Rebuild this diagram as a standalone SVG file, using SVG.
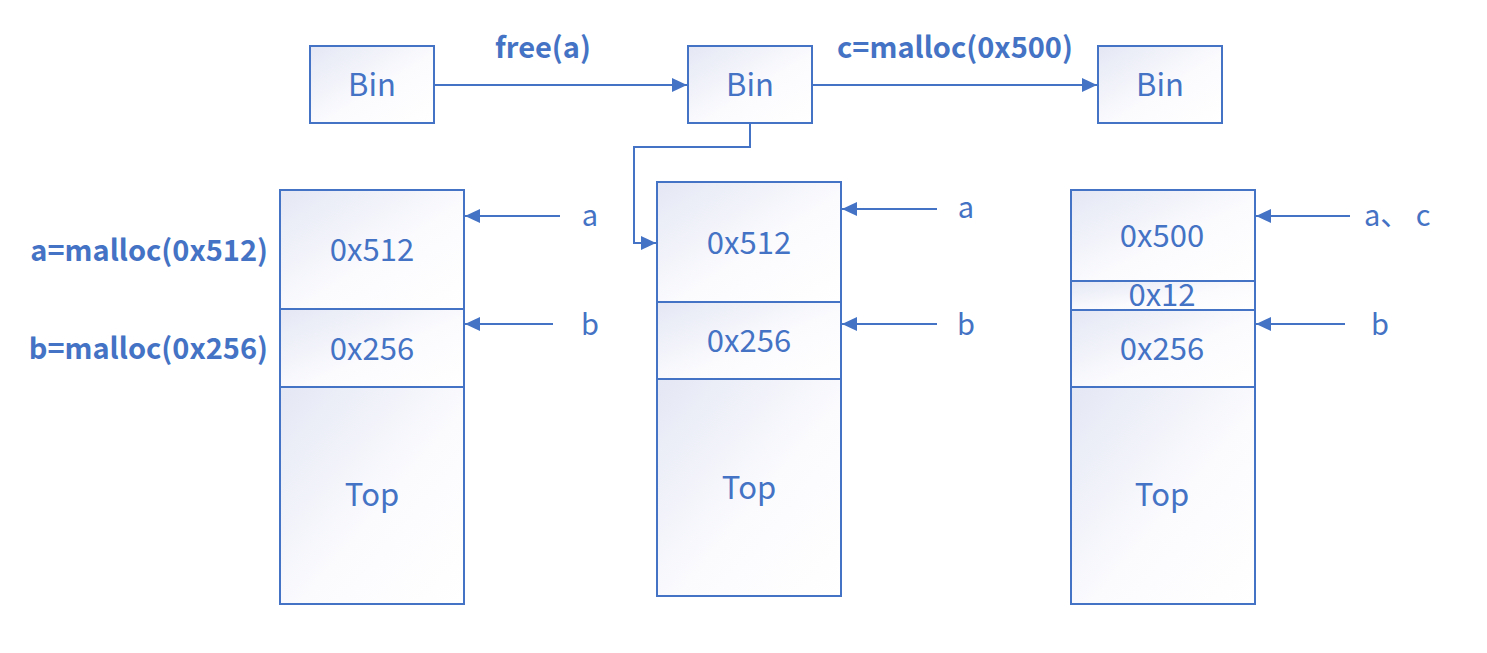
<svg xmlns="http://www.w3.org/2000/svg" width="1487" height="653" viewBox="0 0 1487 653">
<defs>
<linearGradient id="g" x1="0" y1="0" x2="1" y2="1">
<stop offset="0" stop-color="#e4e7f4"/>
<stop offset="0.55" stop-color="#fbfbfe"/>
<stop offset="1" stop-color="#ffffff"/>
</linearGradient>
<marker id="ah" markerUnits="userSpaceOnUse" markerWidth="16" markerHeight="16" viewBox="0 0 16 16" refX="15" refY="8" orient="auto">
<path d="M0,1 L15,8 L0,15 Z" fill="#4472C4"/>
</marker>
<style>
.box{fill:url(#g);stroke:#4472C4;stroke-width:2}
.t{font-family:"Noto Sans CJK SC","Noto Sans",sans-serif;font-size:31px;fill:#4472C4;text-anchor:middle}
.l{font-family:"Noto Sans CJK SC","Noto Sans",sans-serif;font-size:29px;fill:#4472C4}
.b{font-family:"Noto Sans CJK SC","Noto Sans",sans-serif;font-size:29px;font-weight:bold;fill:#4472C4}
.c{fill:none;stroke:#4472C4;stroke-width:2;marker-end:url(#ah)}
</style>
</defs>
<rect width="1487" height="653" fill="#ffffff"/>

<g id="connectors">
<path class="c" d="M434,85 H687"/>
<path class="c" d="M812,85 H1097"/>
<path class="c" d="M750,123 V147 H634 V243 H656"/>
<path class="c" d="M560,216 H465"/>
<path class="c" d="M553,324 H465"/>
<path class="c" d="M937,209 H842"/>
<path class="c" d="M937,324 H842"/>
<path class="c" d="M1350,216 H1256"/>
<path class="c" d="M1345,324 H1256"/>
</g>

<g id="labels">
<text class="b" x="543" y="58" text-anchor="middle">free(a)</text>
<text class="b" x="955" y="58" text-anchor="middle">c=malloc(0x500)</text>
<text class="b" x="268" y="261" text-anchor="end">a=malloc(0x512)</text>
<text class="b" x="268" y="359" text-anchor="end">b=malloc(0x256)</text>
<text class="l" x="590" y="226" text-anchor="middle">a</text>
<text class="l" x="590" y="335" text-anchor="middle">b</text>
<text class="l" x="966" y="218" text-anchor="middle">a</text>
<text class="l" x="966" y="335" text-anchor="middle">b</text>
<text class="l" x="1364" y="226">a、 c</text>
<text class="l" x="1380" y="335" text-anchor="middle">b</text>
</g>

<g id="bin1"><rect class="box" x="310" y="46" width="124" height="77"/><text class="t" x="372" y="96">Bin</text></g>
<g id="bin2"><rect class="box" x="688" y="46" width="124" height="77"/><text class="t" x="750" y="96">Bin</text></g>
<g id="bin3"><rect class="box" x="1098" y="46" width="124" height="77"/><text class="t" x="1160" y="96">Bin</text></g>

<g id="heap1">
<rect class="box" x="280" y="190" width="184" height="119"/><text class="t" x="372" y="261">0x512</text>
<rect class="box" x="280" y="309" width="184" height="78"/><text class="t" x="372" y="360">0x256</text>
<rect class="box" x="280" y="387" width="184" height="217"/><text class="t" x="372" y="506">Top</text>
</g>

<g id="heap2">
<rect class="box" x="657" y="182" width="184" height="120"/><text class="t" x="749" y="254">0x512</text>
<rect class="box" x="657" y="302" width="184" height="77"/><text class="t" x="749" y="352">0x256</text>
<rect class="box" x="657" y="379" width="184" height="217"/><text class="t" x="749" y="499">Top</text>
</g>

<g id="heap3">
<rect class="box" x="1071" y="190" width="184" height="91"/><text class="t" x="1162" y="247">0x500</text>
<rect class="box" x="1071" y="281" width="184" height="29"/><text class="t" x="1162" y="306">0x12</text>
<rect class="box" x="1071" y="310" width="184" height="77"/><text class="t" x="1162" y="360">0x256</text>
<rect class="box" x="1071" y="387" width="184" height="217"/><text class="t" x="1162" y="506">Top</text>
</g>
</svg>
